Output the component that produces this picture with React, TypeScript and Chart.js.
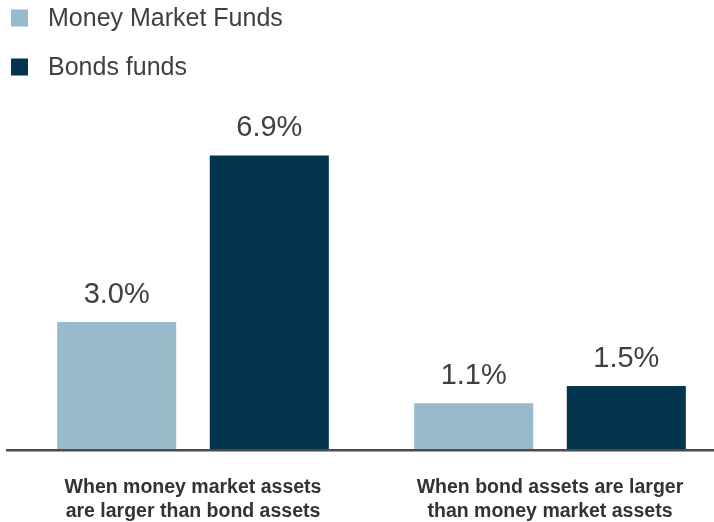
import React, { useEffect, useRef } from "react";
import { Chart, registerables } from "chart.js";

Chart.register(...registerables);

const categories: string[][] = [
  ["When money market assets", "are larger than bond assets"],
  ["When bond assets are larger", "than money market assets"],
];
const seriesNames = ["Money Market Funds", "Bonds funds"];
const moneyMarket = [3.0, 1.1];
const bondFunds = [6.9, 1.5];
const seriesColors = ["#97BBCA", "#03354F"];

const FONT = "'Liberation Sans', Arial, sans-serif";

const customPlugin = {
  id: "custom",
  afterDatasetsDraw(chart: any) {
    const ctx = chart.ctx;
    const area = chart.chartArea;
    // baseline
    ctx.save();
    ctx.strokeStyle = "#4a4a4a";
    ctx.lineWidth = 2.5;
    ctx.beginPath();
    ctx.moveTo(6, area.bottom);
    ctx.lineTo(714, area.bottom);
    ctx.stroke();
    // value labels
    ctx.fillStyle = "#404040";
    ctx.font = `29px ${FONT}`;
    ctx.textAlign = "center";
    ctx.textBaseline = "alphabetic";
    chart.data.datasets.forEach((ds: any, i: number) => {
      const meta = chart.getDatasetMeta(i);
      meta.data.forEach((bar: any, j: number) => {
        const v = ds.data[j];
        ctx.fillText(v.toFixed(1) + "%", bar.x, bar.y - 19);
      });
    });
    ctx.restore();
  },
  afterDraw(chart: any) {
    const ctx = chart.ctx;
    ctx.save();
    ctx.font = `25px ${FONT}`;
    ctx.textBaseline = "middle";
    ctx.textAlign = "left";
    seriesNames.forEach((name, i) => {
      const cy = 18 + i * 49;
      ctx.fillStyle = seriesColors[i];
      ctx.fillRect(11, cy - 8.5, 17, 17);
      ctx.fillStyle = "#404040";
      ctx.fillText(name, 48, cy + 1);
    });
    ctx.restore();
  },
};

export default function App() {
  const canvasRef = useRef<HTMLCanvasElement | null>(null);

  useEffect(() => {
    if (!canvasRef.current) return;
    const chart = new Chart(canvasRef.current, {
      type: "bar",
      data: {
        labels: categories,
        datasets: [
          {
            label: seriesNames[0],
            data: moneyMarket,
            backgroundColor: seriesColors[0],
            borderWidth: 0,
            barPercentage: 0.78,
            categoryPercentage: 0.855,
          },
          {
            label: seriesNames[1],
            data: bondFunds,
            backgroundColor: seriesColors[1],
            borderWidth: 0,
            barPercentage: 0.78,
            categoryPercentage: 0.855,
          },
        ],
      },
      options: {
        responsive: false,
        animation: false,
        layout: { padding: { left: 14.5, right: 1.5, top: 108.4, bottom: 0 } },
        plugins: {
          legend: { display: false },
          tooltip: { enabled: false },
        },
        scales: {
          x: {
            offset: true,
            grid: { display: false, drawTicks: false },
            border: { display: false },
            ticks: {
              color: "#333333",
              font: { family: FONT, size: 19.5, weight: "bold", lineHeight: 1.2 },
              padding: 26,
              maxRotation: 0,
              autoSkip: false,
            },
          },
          y: {
            display: false,
            min: 0,
            max: 8,
          },
        },
      },
      plugins: [customPlugin],
    });
    return () => chart.destroy();
  }, []);

  return (
    <div
      style={{
        position: "fixed",
        left: 0,
        top: 0,
        width: 714,
        height: 522,
        overflow: "hidden",
        background: "#ffffff",
      }}
    >
      <canvas ref={canvasRef} width={730} height={549} style={{ display: "block" }} />
    </div>
  );
}
